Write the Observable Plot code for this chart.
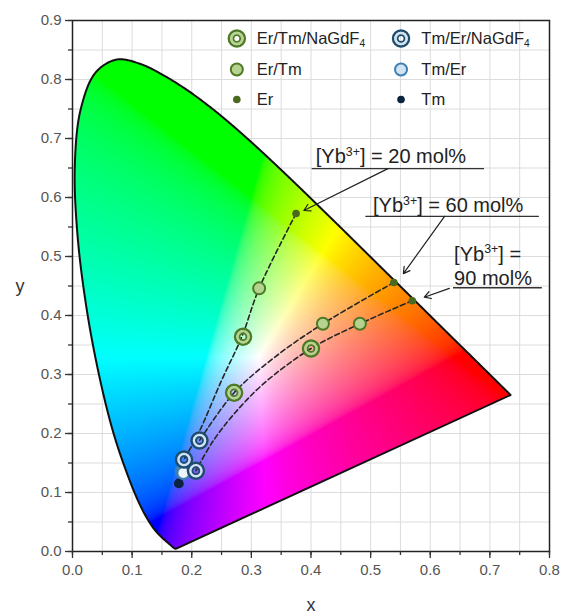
<!DOCTYPE html>
<html><head><meta charset="utf-8">
<script src="https://cdn.jsdelivr.net/npm/d3@7"></script>
<script src="https://cdn.jsdelivr.net/npm/@observablehq/plot@0.6"></script>
<style>
html,body{margin:0;padding:0;background:#fff;}
#chart{width:561px;height:615px;}
</style></head><body><div id="chart"></div>
<script>
// CIE 1931 2° spectral locus, 380–700 nm in 5 nm steps
const locusX = [0.1741,0.1740,0.1738,0.1736,0.1733,0.1730,0.1726,0.1721,0.1714,0.1703,0.1689,0.1669,0.1644,0.1611,0.1566,0.1510,0.1440,0.1355,0.1241,0.1096,0.0913,0.0687,0.0454,0.0235,0.0082,0.0039,0.0139,0.0389,0.0743,0.1142,0.1547,0.1929,0.2296,0.2658,0.3016,0.3373,0.3731,0.4087,0.4441,0.4788,0.5125,0.5448,0.5752,0.6029,0.6270,0.6482,0.6658,0.6801,0.6915,0.7006,0.7079,0.7140,0.7190,0.7230,0.7260,0.7283,0.7300,0.7311,0.7320,0.7327,0.7334,0.7340,0.7344,0.7346,0.7347];
const locusY = [0.0050,0.0050,0.0049,0.0049,0.0048,0.0048,0.0048,0.0048,0.0051,0.0058,0.0069,0.0086,0.0109,0.0138,0.0177,0.0227,0.0297,0.0399,0.0578,0.0868,0.1327,0.2007,0.2950,0.4127,0.5384,0.6548,0.7502,0.8120,0.8338,0.8262,0.8059,0.7816,0.7543,0.7243,0.6923,0.6589,0.6245,0.5896,0.5547,0.5202,0.4866,0.4544,0.4242,0.3965,0.3725,0.3514,0.3340,0.3197,0.3083,0.2993,0.2920,0.2859,0.2809,0.2770,0.2740,0.2717,0.2700,0.2689,0.2680,0.2673,0.2666,0.2660,0.2656,0.2654,0.2653];

// Samples: [Yb3+] = 20, 60, 90 mol%
const ybLevels = [20, 60, 90];
const erX = [0.375, 0.539, 0.570];
const erY = [0.573, 0.456, 0.425];
const erTmX = [0.313, 0.420, 0.482];
const erTmY = [0.446, 0.386, 0.386];
const erTmNaX = [0.286, 0.271, 0.400];
const erTmNaY = [0.364, 0.269, 0.344];
const tmErNaX = [0.187, 0.213, 0.207];
const tmErNaY = [0.156, 0.188, 0.137];
const tmErX = [0.183, 0.185, 0.186];
const tmErY = [0.136, 0.134, 0.133];
const tmX = [0.178, 0.178, 0.179];
const tmY = [0.116, 0.115, 0.115];

// Dashed guide curves
const guide20X = [0.375, 0.313, 0.284, 0.250, 0.212, 0.187];
const guide20Y = [0.573, 0.446, 0.364, 0.290, 0.202, 0.156];
const guide60X = [0.539, 0.420, 0.340, 0.271, 0.213];
const guide60Y = [0.456, 0.386, 0.330, 0.269, 0.188];
const guide90X = [0.570, 0.482, 0.400, 0.320, 0.270, 0.235, 0.207];
const guide90Y = [0.425, 0.386, 0.344, 0.284, 0.232, 0.186, 0.137];

// Annotations
const annoText = ["[Yb^{3+}] = 20 mol%", "[Yb^{3+}] = 60 mol%", "[Yb^{3+}] =\n90 mol%"];
const annoX = [0.408, 0.504, 0.640];
const annoY = [0.658, 0.575, 0.4525];
const underX1 = [0.402, 0.492, 0.639];
const underX2 = [0.691, 0.783, 0.788];
const underY = [0.649, 0.568, 0.447];
const arrowX1 = [0.529, 0.624, 0.632];
const arrowY1 = [0.649, 0.568, 0.446];
const arrowX2 = [0.388, 0.555, 0.590];
const arrowY2 = [0.578, 0.471, 0.431];

// Legend
const legendLabels = ["Er/Tm/NaGdF_{4}", "Er/Tm", "Er", "Tm/Er/NaGdF_{4}", "Tm/Er", "Tm"];
const legendKinds = ["ringG", "circG", "dotG", "ringB", "circB", "dotB"];
const legendMarkX = [0.2756, 0.2756, 0.2756, 0.551, 0.551, 0.551];
const legendTextX = [0.309, 0.309, 0.309, 0.585, 0.585, 0.585];
const legendY = [0.8695, 0.817, 0.766, 0.8695, 0.817, 0.766];

const xMajor = [0, 0.1, 0.2, 0.3, 0.4, 0.5, 0.6, 0.7, 0.8];
const yMajor = [0, 0.1, 0.2, 0.3, 0.4, 0.5, 0.6, 0.7, 0.8, 0.9];
const xMinor = d3.range(0, 0.801, 0.05);
const yMinor = d3.range(0, 0.901, 0.05);

const C = {
  gDark: "#4d7a24", gLight: "#b5d38e", gDot: "#4a6a20",
  bDark: "#1e4d6d", bLight: "#d3e4f1", bStroke: "#3f7fb2", bDot: "#0c2340"
};

// Smooth the spectral locus (centripetal Catmull-Rom) for outline and fill boundary
const ns = "http://www.w3.org/2000/svg";
const locusPts = locusX.map((x, i) => [x * 1000, locusY[i] * 1000]);
const tmpSvg = document.createElementNS(ns, "svg");
document.body.appendChild(tmpSvg);
const tmpPath = document.createElementNS(ns, "path");
tmpPath.setAttribute("d", d3.line().curve(d3.curveCatmullRom.alpha(0.5))(locusPts));
tmpSvg.appendChild(tmpPath);
const totalLen = tmpPath.getTotalLength();
const locus = d3.range(0, 1201).map(i => {
  const q = tmpPath.getPointAtLength(totalLen * i / 1200);
  return [q.x / 1000, q.y / 1000];
});
tmpSvg.remove();
const locusClosed = [...locus, locus[0]];

function gamutColor(x, y) {
  if (!d3.polygonContains(locus, [x, y])) return null;
  const X = x / y, Y = 1, Z = (1 - x - y) / y;
  let r = 3.2406 * X - 1.5372 * Y - 0.4986 * Z;
  let g = -0.9689 * X + 1.8758 * Y + 0.0415 * Z;
  let b = 0.0557 * X - 0.2040 * Y + 1.0570 * Z;
  r = Math.max(0, r); g = Math.max(0, g); b = Math.max(0, b);
  const m = Math.max(r, g, b) || 1;
  const gam = v => { v /= m; return Math.round(255 * (v <= 0.0031308 ? 12.92 * v : 1.055 * Math.pow(v, 1 / 2.4) - 0.055)); };
  return `rgb(${gam(r)},${gam(g)},${gam(b)})`;
}

const pts = (xs, ys) => xs.map((x, i) => ({x, y: ys[i], level: ybLevels[i]}));
const er = pts(erX, erY), erTm = pts(erTmX, erTmY), erTmNa = pts(erTmNaX, erTmNaY);
const tmErNa = pts(tmErNaX, tmErNaY), tmEr = pts(tmErX, tmErY), tm = pts(tmX, tmY);
const guides = [
  ...guide20X.map((x, i) => ({x, y: guide20Y[i], g: 20})),
  ...guide60X.map((x, i) => ({x, y: guide60Y[i], g: 60})),
  ...guide90X.map((x, i) => ({x, y: guide90Y[i], g: 90}))
];
const anno = annoText.map((t, i) => ({t, x: annoX[i], y: annoY[i], x1: underX1[i], x2: underX2[i], uy: underY[i],
  ax1: arrowX1[i], ay1: arrowY1[i], ax2: arrowX2[i], ay2: arrowY2[i]}));
const legend = legendLabels.map((t, i) => ({t, k: legendKinds[i], mx: legendMarkX[i], tx: legendTextX[i], y: legendY[i]}));
const L = k => legend.filter(d => d.k === k).map(d => ({x: d.mx, y: d.y}));

function ring(data, dark, light) {
  return [
    Plot.dot(data, {x: "x", y: "y", r: 8, fill: "none", stroke: dark, strokeWidth: 2.5}),
    Plot.dot(data, {x: "x", y: "y", r: 5.5, fill: "none", stroke: light, strokeWidth: 2.5}),
    Plot.dot(data, {x: "x", y: "y", r: 3.4, fill: "none", stroke: dark, strokeWidth: 1.8})
  ];
}
function circ(data, fill, stroke) {
  return Plot.dot(data, {x: "x", y: "y", r: 6, fill, stroke, strokeWidth: 2});
}
function dot(data, fill, r) {
  return Plot.dot(data, {x: "x", y: "y", r, fill, stroke: "none"});
}

const plot = Plot.plot({
  width: 561, height: 615,
  marginLeft: 72, marginRight: 12, marginTop: 20, marginBottom: 64,
  x: {domain: [0, 0.8]},
  y: {domain: [0, 0.9]},
  color: {type: "identity"},
  style: {fontFamily: "'Liberation Sans', Arial, Helvetica, sans-serif", fontSize: "15px", color: "#333", background: "#fff"},
  marks: [
    Plot.gridX(xMinor, {stroke: "#dcdcdc", strokeOpacity: 1}),
    Plot.gridY(yMinor, {stroke: "#dcdcdc", strokeOpacity: 1}),
    Plot.raster({fill: gamutColor, x1: 0, y1: 0, x2: 0.8, y2: 0.9, pixelSize: 1}),
    Plot.line(locusClosed, {x: d => d[0], y: d => d[1], stroke: "#111", strokeWidth: 2, strokeLinejoin: "round"}),
    Plot.line(guides, {x: "x", y: "y", z: "g", curve: "catmull-rom", stroke: "#262626", strokeWidth: 1.6, strokeDasharray: "5,3"}),
    dot(tm, C.bDot, 4.5),
    circ(tmEr, "#eef4fa", C.bStroke),
    dot(er, C.gDot, 3.8),
    circ(erTm, C.gLight, C.gDark),
    ...ring(erTmNa, C.gDark, C.gLight),
    ...ring(tmErNa, C.bDark, C.bLight),
    // annotations
    Plot.ruleY(anno, {y: "uy", x1: "x1", x2: "x2", stroke: "#333", strokeWidth: 1.3}),
    Plot.arrow(anno, {x1: "ax1", y1: "ay1", x2: "ax2", y2: "ay2", stroke: "#222", strokeWidth: 1.2, headLength: 9, bend: 0}),
    Plot.text(anno, {x: "x", y: "y", text: "t", textAnchor: "start", lineAnchor: "bottom", fontSize: 20, lineHeight: 1.2, fill: "#222"}),
    // legend
    ...ring(L("ringG"), C.gDark, C.gLight),
    ...ring(L("ringB"), C.bDark, C.bLight),
    circ(L("circG"), C.gLight, C.gDark),
    circ(L("circB"), C.bLight, C.bStroke),
    dot(L("dotG"), C.gDot, 3.8),
    dot(L("dotB"), C.bDot, 3.8),
    Plot.text(legend, {x: "tx", y: "y", text: "t", textAnchor: "start", lineAnchor: "middle", fontSize: 16.5, fill: "#222"}),
    // frame & axes
    Plot.frame({stroke: "#222", strokeWidth: 1.5}),
    Plot.axisX(xMinor, {tickSize: 4, tickFormat: () => "", stroke: "#333", strokeWidth: 1.3}),
    Plot.axisY(yMinor, {tickSize: 4, tickFormat: () => "", stroke: "#333", strokeWidth: 1.3}),
    Plot.axisX(xMajor, {tickSize: 7, tickPadding: 6, tickFormat: d3.format(".1f"), fontSize: 15, stroke: "#333", fill: "#555", strokeWidth: 1.3, label: null}),
    Plot.axisY(yMajor, {tickSize: 7, tickPadding: 4, tickFormat: d3.format(".1f"), fontSize: 15, stroke: "#333", fill: "#555", strokeWidth: 1.3, label: null}),
    Plot.text(["x"], {frameAnchor: "bottom", dy: 54, lineAnchor: "middle", fontSize: 18, fill: "#333"}),
    Plot.text(["y"], {frameAnchor: "left", dx: -57, lineAnchor: "middle", fontSize: 18, fill: "#333"})
  ]
});
document.getElementById("chart").appendChild(plot);

// Render ^{..} as superscript and _{..} as subscript
(function richText(root) {
  const els = [];
  root.querySelectorAll("text, tspan").forEach(el => {
    if (el.children.length === 0 && /[\^_]\{/.test(el.textContent)) els.push(el);
  });
  for (const el of els) {
    const s = el.textContent;
    const fs = parseFloat(getComputedStyle(el).fontSize) || 16;
    el.textContent = "";
    let shift = 0;
    for (const p of s.split(/(\^\{[^}]*\}|_\{[^}]*\})/)) {
      if (!p) continue;
      const t = document.createElementNS(ns, "tspan");
      let target = 0, txt = p;
      if (p.startsWith("^{")) { target = -0.36 * fs; txt = p.slice(2, -1); t.setAttribute("font-size", "62%"); }
      else if (p.startsWith("_{")) { target = 0.2 * fs; txt = p.slice(2, -1); t.setAttribute("font-size", "62%"); }
      const dy = target - shift;
      if (dy) t.setAttribute("dy", dy.toFixed(2));
      shift = target;
      t.textContent = txt;
      el.appendChild(t);
    }
  }
})(plot);
</script></body></html>
